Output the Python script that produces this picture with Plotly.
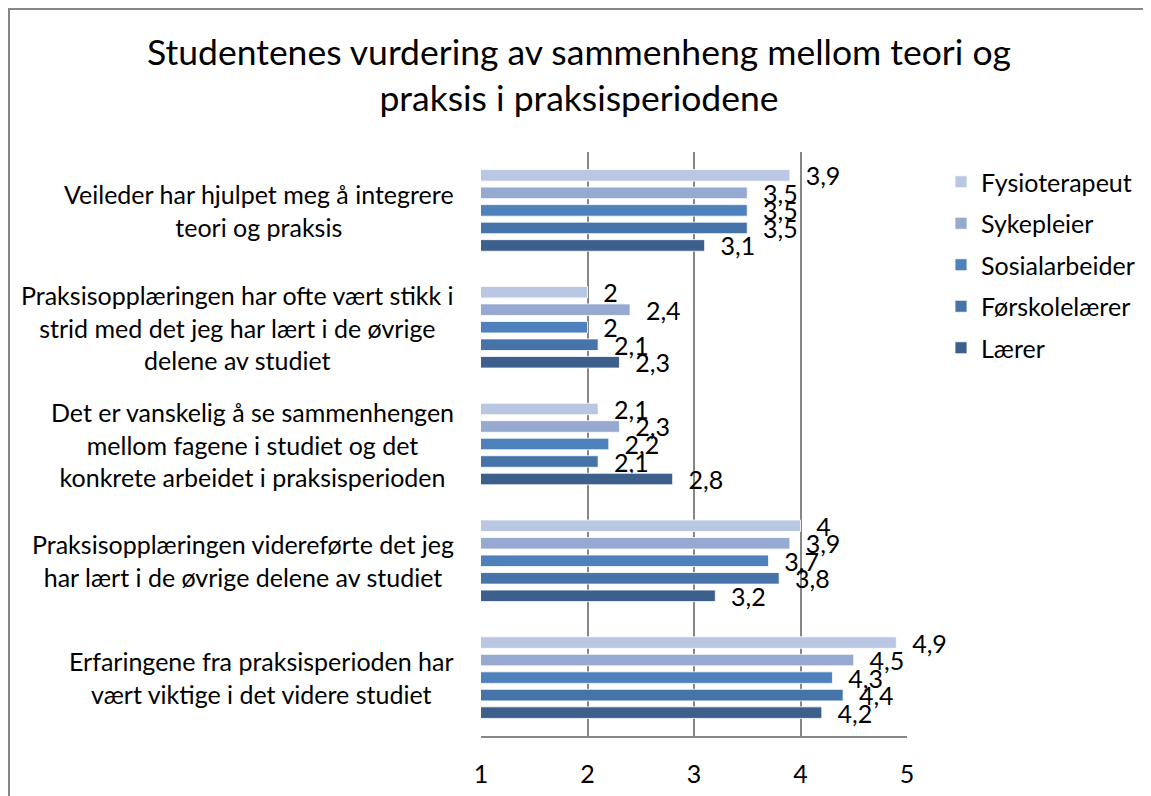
import plotly.graph_objects as go

categories = [
    "Veileder har hjulpet meg å integrere<br>teori og praksis",
    "Praksisopplæringen har ofte vært stikk i<br>strid med det jeg har lært i de øvrige<br>delene av studiet",
    "Det er vanskelig å se sammenhengen<br>mellom fagene i studiet og det<br>konkrete arbeidet i praksisperioden",
    "Praksisopplæringen videreførte det jeg<br>har lært i de øvrige delene av studiet",
    "Erfaringene fra praksisperioden har<br>vært viktige i det videre studiet",
]
series_names = ["Fysioterapeut", "Sykepleier", "Sosialarbeider", "Førskolelærer", "Lærer"]
fysioterapeut = [3.9, 2.0, 2.1, 4.0, 4.9]
sykepleier = [3.5, 2.4, 2.3, 3.9, 4.5]
sosialarbeider = [3.5, 2.0, 2.2, 3.7, 4.3]
forskolelaerer = [3.5, 2.1, 2.1, 3.8, 4.4]
laerer = [3.1, 2.3, 2.8, 3.2, 4.2]
series_values = [fysioterapeut, sykepleier, sosialarbeider, forskolelaerer, laerer]
colors = ["#B9C7E2", "#95A9D1", "#4F81BD", "#4774A8", "#3C5F8C"]
tick_vals = [1, 2, 3, 4, 5]
title_text = "Studentenes vurdering av sammenheng mellom teori og<br>praksis i praksisperiodene"

FONT = "Lato"
# page body has an 8px margin; figure coordinates below are relative to the figure
W, H = 1143, 788
L, R, T, B = 473, 899, 144, 728


def fmt(v):
    s = ("%g" % v).replace(".", ",")
    return "\u00a0\u00a0" + s


fig = go.Figure()
for i, (name, vals, col) in enumerate(zip(series_names, series_values, colors)):
    fig.add_trace(go.Bar(
        y=categories, x=vals, name=name, orientation="h",
        marker=dict(color=col, line=dict(color="white", width=0.8)),
        text=[fmt(v) for v in vals], textposition="outside",
        textfont=dict(family=FONT, size=25, color="black"),
        constraintext="none", cliponaxis=False,
        legendgroup=name,
    ))

for c in categories:
    fig.add_annotation(
        x=(448 - L) / (R - L), xref="paper", y=c, yref="y",
        text=c, showarrow=False, xanchor="right", align="center",
        font=dict(family=FONT, size=25, color="black"),
    )

# outer chart border (left and top visible)
fig.add_shape(type="rect", xref="paper", yref="paper",
              x0=(1 - L) / (R - L), x1=(1170 - L) / (R - L),
              y0=(B - 810) / (B - T), y1=(B - 1) / (B - T),
              line=dict(color="#868686", width=2), fillcolor="rgba(0,0,0,0)",
              layer="below")

fig.update_layout(
    width=W, height=H,
    margin=dict(l=L, r=W - R, t=T, b=H - B, autoexpand=False),
    paper_bgcolor="white", plot_bgcolor="white",
    barmode="group", bargap=0.25, bargroupgap=0.34,
    separators=", ",
    title=dict(text=title_text, x=571 / W, xanchor="center",
               y=0.928, yanchor="top",
               font=dict(family=FONT, size=35.5, color="black")),
    legend=dict(x=(933 - L) / (R - L), xanchor="left", y=(B - 151) / (B - T), yanchor="top",
                font=dict(family=FONT, size=25, color="black"),
                traceorder="grouped", tracegroupgap=6, bgcolor="rgba(0,0,0,0)"),
    font=dict(family=FONT, color="black"),
)
fig.update_xaxes(range=[1, 5], tickvals=tick_vals, showgrid=True, gridcolor="#868686",
                 gridwidth=1.5, showline=True, linecolor="#868686", linewidth=1.5,
                 zeroline=False, ticks="", ticklabelstandoff=15,
                 tickfont=dict(family=FONT, size=25, color="black"))
fig.update_yaxes(autorange="reversed", showticklabels=False, showgrid=False, ticks="",
                 showline=False)

fig.write_html("out.html")
